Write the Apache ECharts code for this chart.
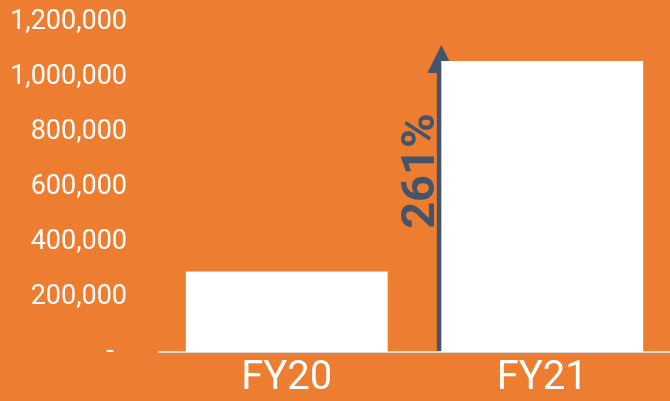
<!DOCTYPE html>
<html><head><meta charset="utf-8">
<script src="https://cdn.jsdelivr.net/npm/echarts@6/dist/echarts.min.js"></script>
<style>html,body{margin:0;padding:0;background:#ED7D31;}#c{width:670px;height:401px;}</style>
</head><body><div id="c"></div>
<script>
var categories = ['FY20', 'FY21'];
var values = [293000, 1058000];
var growthLabel = '261%';
var arrowTop = 1116000;   // arrow tip value
var arrowX = 1.105;        // position on hidden 0..2 value axis (left edge of FY21 bar)
var labelY = 658000;       // vertical centre of the growth label

var chart = echarts.init(document.getElementById('c'));
chart.setOption({
  backgroundColor: '#ED7D31',
  animation: false,
  grid: {left: 159, right: 0, top: 22, bottom: 49},
  xAxis: [{
    type: 'category', data: categories,
    axisLine: {lineStyle: {color: '#D9D9D9', width: 2}},
    axisTick: {show: false},
    axisLabel: {color: '#FFFFFF', fontSize: 40, fontFamily: 'Roboto', margin: 7}
  }, {
    type: 'value', min: 0, max: 2, show: false
  }],
  yAxis: {
    type: 'value', min: 0, max: 1200000, interval: 200000,
    axisLine: {show: false}, axisTick: {show: false}, splitLine: {show: false},
    axisLabel: {
      color: '#FFFFFF', fontSize: 27, fontFamily: 'Roboto', margin: 32,
      formatter: function (v) { return v === 0 ? '-  ' : v.toLocaleString('en-US'); }
    }
  },
  series: [{
    type: 'bar', data: values, barWidth: '79%',
    itemStyle: {color: '#FFFFFF'}, silent: true
  }, {
    type: 'custom', xAxisIndex: 1, yAxisIndex: 0, silent: true,
    data: [[arrowX, arrowTop, labelY]],
    renderItem: function (params, api) {
      var base = api.coord([api.value(0), 0]);
      var tip = api.coord([api.value(0), api.value(1)]);
      var lab = api.coord([api.value(0), api.value(2)]);
      var headH = 28, headW = 28, shaftW = 9;
      return {
        type: 'group',
        children: [{
          type: 'rect',
          shape: {x: base[0] - shaftW / 2, y: tip[1] + headH - 1, width: shaftW, height: base[1] - tip[1] - headH},
          style: {fill: '#44546A'}
        }, {
          type: 'polygon',
          shape: {points: [[tip[0], tip[1]], [tip[0] - headW / 2, tip[1] + headH], [tip[0] + headW / 2, tip[1] + headH]]},
          style: {fill: '#44546A'}
        }, {
          type: 'text',
          x: tip[0] + 4, y: lab[1],
          rotation: Math.PI / 2,
          style: {
            text: growthLabel, fill: '#44546A', fontSize: 47, fontWeight: 'bold',
            fontFamily: 'Roboto', align: 'center', verticalAlign: 'bottom'
          }
        }]
      };
    }
  }]
});
</script></body></html>
